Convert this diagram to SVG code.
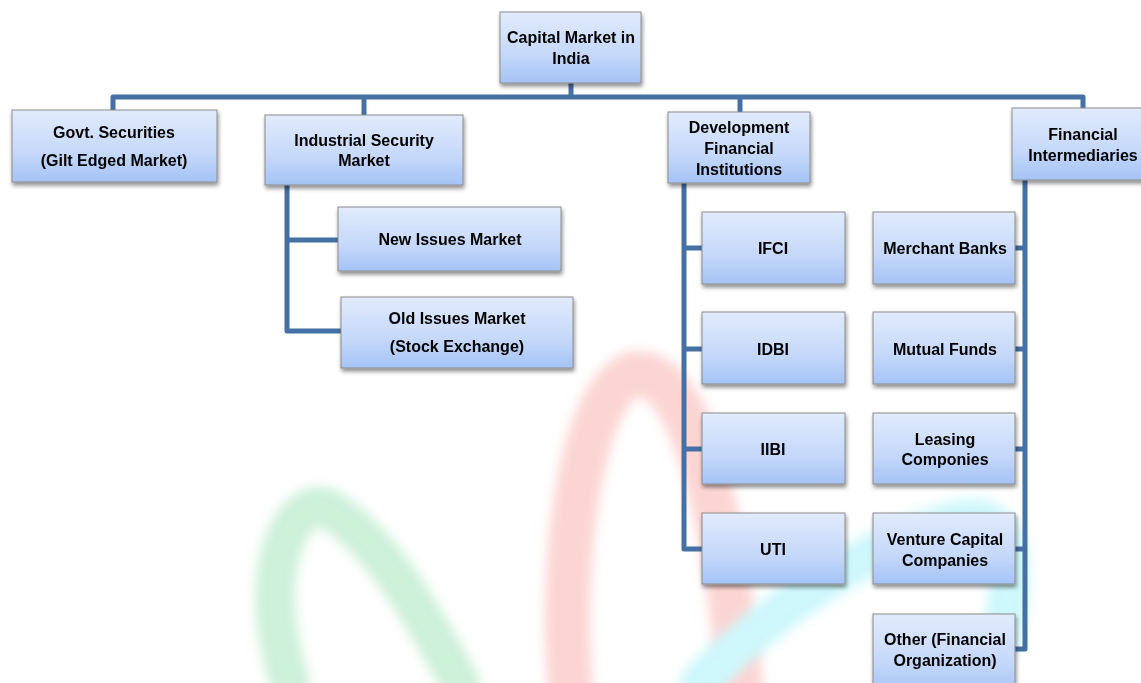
<svg xmlns="http://www.w3.org/2000/svg" width="1141" height="683" viewBox="0 0 1141 683">
<defs>
<linearGradient id="bg" x1="0" y1="0" x2="0" y2="1">
<stop offset="0" stop-color="#e1ebfc"/>
<stop offset="0.6" stop-color="#c5d8fa"/>
<stop offset="1" stop-color="#a4c3f5"/>
</linearGradient>
<filter id="sh" x="-10%" y="-10%" width="125%" height="135%">
<feGaussianBlur in="SourceAlpha" stdDeviation="2"/>
<feOffset dx="1" dy="3" result="b"/>
<feComponentTransfer><feFuncA type="linear" slope="0.45"/></feComponentTransfer>
<feMerge><feMergeNode/><feMergeNode in="SourceGraphic"/></feMerge>
</filter>
<filter id="blur" x="-30%" y="-30%" width="160%" height="160%"><feGaussianBlur stdDeviation="6"/></filter>
</defs>
<style>
.box{fill:url(#bg);stroke:#8c8c8c;stroke-width:1;filter:url(#sh)}
.t{font-family:"Liberation Sans",Arial,sans-serif;font-weight:bold;font-size:16px;fill:#000;text-anchor:middle}
.c{fill:none;stroke:#4570a4;stroke-width:5;stroke-linejoin:round}
.wm{fill:none;stroke-linecap:round;filter:url(#blur)}
</style>
<rect width="1141" height="683" fill="#fff"/>
<g id="watermark" opacity="0.25">
<path class="wm" d="M290,683 C250,560 300,490 330,510 C380,540 420,610 460,683" stroke="#37c46a" stroke-width="40"/>
<path class="wm" d="M570,683 C560,560 580,400 630,375 C680,360 720,470 740,683" stroke="#f0564f" stroke-width="45"/>
<path class="wm" d="M700,683 C780,600 880,540 960,520 C1010,510 1020,560 1000,640" stroke="#39e0f0" stroke-width="40"/>
</g>
<g id="connectors">
<path class="c" d="M571,83 V97"/>
<path class="c" d="M113,110 V97 H1083 V108"/>
<path class="c" d="M364,97 V115"/>
<path class="c" d="M740,97 V112"/>
<path class="c" d="M287,185 V331 H341"/>
<path class="c" d="M287,240 H338"/>
<path class="c" d="M684,183 V549 H702"/>
<path class="c" d="M684,248 H702 M684,349 H702 M684,449 H702"/>
<path class="c" d="M1025,180 V649 H1015"/>
<path class="c" d="M1025,248 H1015 M1025,349 H1015 M1025,449 H1015 M1025,549 H1015"/>
</g>
<g id="root"><rect class="box" x="500" y="12" width="141" height="71"/><text class="t" x="571" y="43">Capital Market in</text><text class="t" x="571" y="64">India</text></g>
<g id="govt"><rect class="box" x="12" y="110" width="205" height="72"/><text class="t" x="114" y="138">Govt. Securities</text><text class="t" x="114" y="166">(Gilt Edged Market)</text></g>
<g id="industrial"><rect class="box" x="265" y="115" width="198" height="70"/><text class="t" x="364" y="146">Industrial Security</text><text class="t" x="364" y="166">Market</text></g>
<g id="dfi"><rect class="box" x="668" y="112" width="142" height="71"/><text class="t" x="739" y="133">Development</text><text class="t" x="739" y="154">Financial</text><text class="t" x="739" y="175">Institutions</text></g>
<g id="fi"><rect class="box" x="1012" y="108" width="134" height="72"/><text class="t" x="1083" y="140">Financial</text><text class="t" x="1083" y="161">Intermediaries</text></g>
<g id="newissues"><rect class="box" x="338" y="207" width="223" height="64"/><text class="t" x="450" y="245">New Issues Market</text></g>
<g id="oldissues"><rect class="box" x="341" y="297" width="232" height="71"/><text class="t" x="457" y="324">Old Issues Market</text><text class="t" x="457" y="352">(Stock Exchange)</text></g>
<g id="ifci"><rect class="box" x="702" y="212" width="143" height="72"/><text class="t" x="773" y="254">IFCI</text></g>
<g id="idbi"><rect class="box" x="702" y="312" width="143" height="72"/><text class="t" x="773" y="355">IDBI</text></g>
<g id="iibi"><rect class="box" x="702" y="413" width="143" height="71"/><text class="t" x="773" y="455">IIBI</text></g>
<g id="uti"><rect class="box" x="702" y="513" width="143" height="71"/><text class="t" x="773" y="555">UTI</text></g>
<g id="merchant"><rect class="box" x="873" y="212" width="142" height="72"/><text class="t" x="945" y="254">Merchant Banks</text></g>
<g id="mutual"><rect class="box" x="873" y="312" width="142" height="72"/><text class="t" x="945" y="355">Mutual Funds</text></g>
<g id="leasing"><rect class="box" x="873" y="413" width="142" height="71"/><text class="t" x="945" y="445">Leasing</text><text class="t" x="945" y="465">Componies</text></g>
<g id="venture"><rect class="box" x="873" y="513" width="142" height="71"/><text class="t" x="945" y="545">Venture Capital</text><text class="t" x="945" y="566">Companies</text></g>
<g id="other"><rect class="box" x="873" y="614" width="142" height="80"/><text class="t" x="945" y="645">Other (Financial</text><text class="t" x="945" y="666">Organization)</text></g>
</svg>
